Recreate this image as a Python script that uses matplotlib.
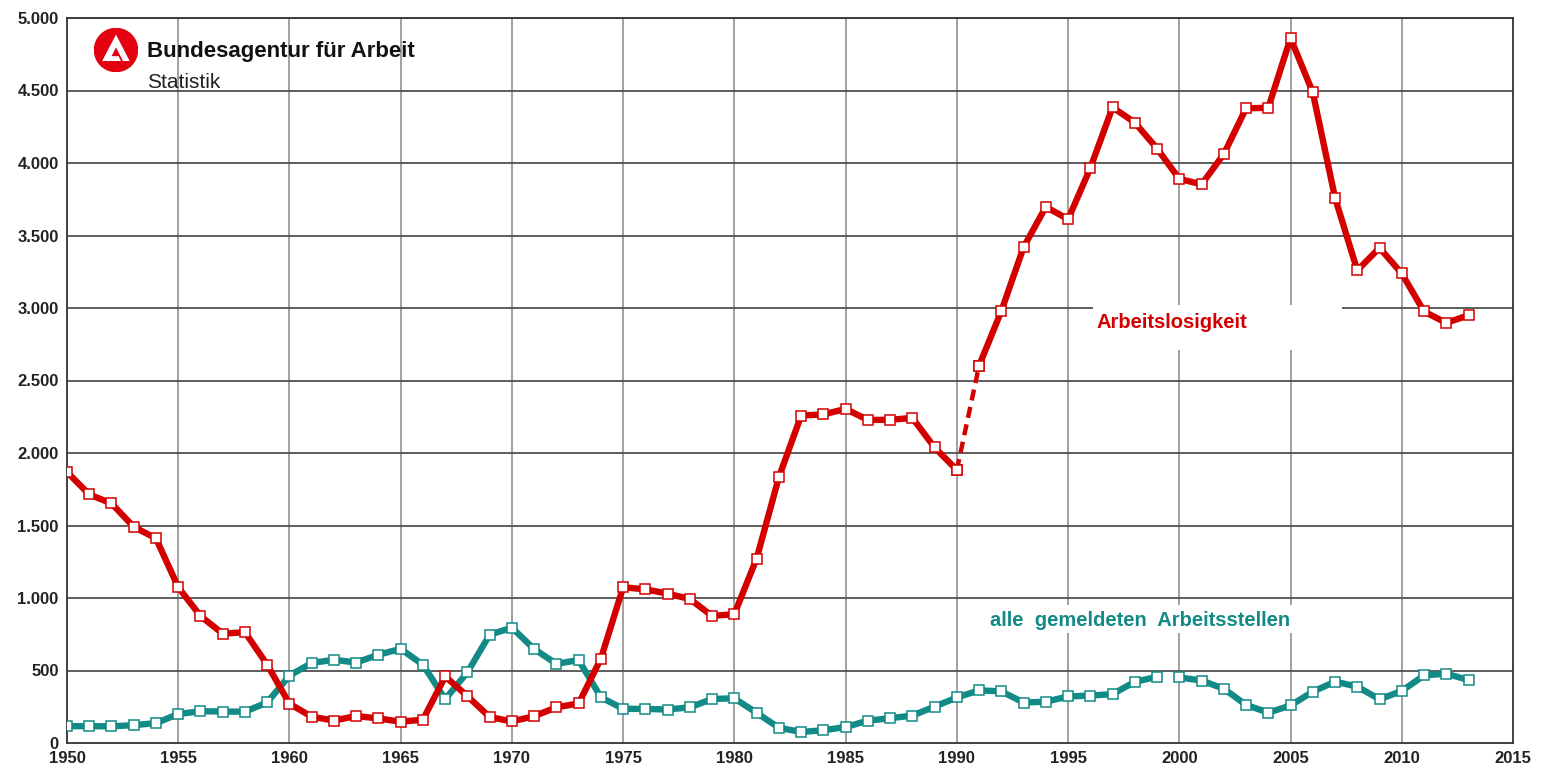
import matplotlib.pyplot as plt
from matplotlib.patches import Circle, Polygon, Rectangle
from matplotlib.ticker import FuncFormatter

# Jahreswerte in Tausend
years = list(range(1950, 2014))
arbeitslose = [1869, 1714, 1652, 1491, 1411, 1074, 876, 754, 764, 540,
               271, 181, 155, 186, 169, 147, 161, 459, 323, 179,
               149, 185, 246, 273, 582, 1074, 1060, 1030, 993, 876,
               889, 1272, 1833, 2258, 2266, 2304, 2228, 2229, 2242, 2038,
               1883, 2602, 2979, 3419, 3698, 3612, 3965, 4384, 4279, 4100,
               3890, 3853, 4061, 4377, 4381, 4861, 4487, 3760, 3259, 3415,
               3238, 2976, 2897, 2950]
stellen = [116, 116, 115, 123, 137, 200, 219, 217, 216, 280,
           465, 552, 574, 555, 609, 649, 540, 302, 488, 747,
           795, 648, 546, 572, 315, 236, 235, 231, 246, 304,
           308, 208, 105, 76, 88, 110, 154, 171, 189, 251,
           314, 363, 356, 279, 285, 321, 327, 337, 422, 456,
           452, 431, 374, 263, 209, 259, 354, 423, 389, 301,
           359, 466, 478, 434]

RED = '#d40000'
TEAL = '#128a86'

plt.rcParams['font.family'] = ['Liberation Sans', 'DejaVu Sans']

fig = plt.figure(figsize=(15.41, 7.73), dpi=100)
ax = fig.add_axes([67/1541, 1-743/773, (1513-67)/1541, (743-18)/773])

ax.set_xlim(1950, 2015)
ax.set_ylim(0, 5000)
ax.set_xticks(range(1950, 2016, 5))
ax.set_yticks(range(0, 5001, 500))
ax.yaxis.set_major_formatter(FuncFormatter(lambda v, p: f'{int(v):,}'.replace(',', '.')))
ax.tick_params(length=0, labelsize=12, pad=6)
for lab in ax.get_xticklabels() + ax.get_yticklabels():
    lab.set_fontweight('bold')
    lab.set_color('#222222')

for x in range(1955, 2015, 5):
    ax.axvline(x, color='#9a9a9a', lw=1.3, zorder=0)
for y in range(500, 5001, 500):
    ax.axhline(y, color='#505050', lw=1.3, zorder=0)
for s in ax.spines.values():
    s.set_color('#333333')
    s.set_linewidth(1.3)

mk = dict(marker='s', markersize=6.8, markerfacecolor='white', markeredgewidth=1.1)
LW = 4.6

# Arbeitsstellen: Luecke zwischen 1999 und 2000
i99 = years.index(1999)
ax.plot(years[:i99+1], stellen[:i99+1], color=TEAL, lw=LW, markeredgecolor=TEAL, zorder=3, **mk)
ax.plot(years[i99+1:], stellen[i99+1:], color=TEAL, lw=LW, markeredgecolor=TEAL, zorder=3, **mk)

# Arbeitslose: West bis 1990, gestrichelter Uebergang, ab 1991 Deutschland
i90 = years.index(1990)
ax.plot(years[:i90+1], arbeitslose[:i90+1], color=RED, lw=LW, markeredgecolor=RED, zorder=4, **mk)
ax.plot(years[i90:i90+2], arbeitslose[i90:i90+2], color=RED, lw=3.2, ls=(0, (2.5, 1.5)), zorder=3.5)
ax.plot(years[i90+1:], arbeitslose[i90+1:], color=RED, lw=LW, markeredgecolor=RED, zorder=4, **mk)
ax.plot(years[i90:i90+2], arbeitslose[i90:i90+2], ls='none', markeredgecolor=RED, zorder=4.5, **mk)

# Beschriftungen mit weissem Hintergrund
ax.add_patch(Rectangle((1996.1, 2710), 11.2, 311, facecolor='white', edgecolor='none', zorder=2))
ax.text(1996.3, 2897, 'Arbeitslosigkeit', color=RED, fontsize=14.5, fontweight='bold',
        va='center', ha='left', zorder=5)
ax.add_patch(Rectangle((1991.0, 760), 15.2, 190, facecolor='white', edgecolor='none', zorder=2))
ax.text(1991.5, 848, 'alle  gemeldeten  Arbeitsstellen', color=TEAL, fontsize=14.5,
        fontweight='bold', va='center', ha='left', zorder=5)

# Logo
lax = fig.add_axes([94/1541, 1-72/773, 44/1541, 44/773])
lax.set_xlim(-1, 1)
lax.set_ylim(-1, 1)
lax.set_aspect('equal')
lax.axis('off')
lax.add_patch(Circle((0, 0), 0.98, color='#e3000f'))
lax.add_patch(Polygon([(-0.62, -0.5), (0.0, 0.7), (0.62, -0.5), (0.32, -0.5), (0.0, 0.12),
                       (-0.2, -0.28), (0.12, -0.28), (0.22, -0.5)], closed=True,
                      facecolor='white', edgecolor='none'))
lax.add_patch(Polygon([(-0.62, -0.5), (-0.42, -0.5), (-0.1, 0.1), (-0.2, 0.3)], closed=True,
                      facecolor='white', edgecolor='none'))

fig.text(147/1541, 1-51/773, 'Bundesagentur für Arbeit', fontsize=16, fontweight='bold',
         va='center', ha='left', color='#111111')
fig.text(147/1541, 1-82/773, 'Statistik', fontsize=15, va='center', ha='left', color='#222222')

fig.savefig('out.png', dpi=100)
